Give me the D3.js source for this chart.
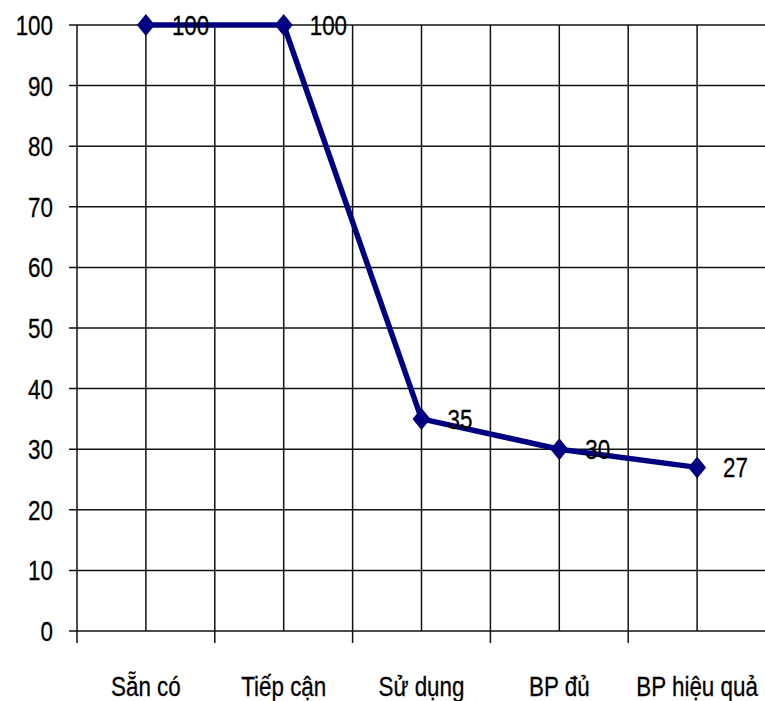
<!DOCTYPE html>
<html>
<head>
<meta charset="utf-8">
<script src="https://cdn.jsdelivr.net/npm/d3@7"></script>
<style>
  body { margin: 0; background: #fff; }
  text { font-family: "Liberation Sans", Arial, sans-serif; fill: #000; font-size: 28px; stroke: #000; stroke-width: 0.3px; }
</style>
</head>
<body>
<div id="chart-area"></div>
<script>
const categories = ["Sẵn có", "Tiếp cận", "Sử dụng", "BP đủ", "BP hiệu quả"];
const values = [100, 100, 35, 30, 27];
const yTicks = [0, 10, 20, 30, 40, 50, 60, 70, 80, 90, 100];

const W = 765, H = 701;
const margin = {top: 25, right: 0, bottom: 70, left: 77};
const sx = 0.8; // text in the picture is narrow and tall

const svg = d3.select("#chart-area")
  .append("svg")
    .attr("width", W)
    .attr("height", H);

const x = d3.scaleBand().domain(categories).range([margin.left, W + 1]).padding(0);
const y = d3.scaleLinear().domain([0, 100]).range([H - margin.bottom, margin.top]);

// horizontal grid lines (with the small tick to the left of the axis)
svg.append("g")
  .selectAll("line")
  .data(yTicks)
  .join("line")
    .attr("x1", margin.left - 8)
    .attr("x2", W)
    .attr("y1", d => y(d))
    .attr("y2", d => y(d))
    .attr("stroke", "#111")
    .attr("stroke-width", 1.5);

// vertical grid lines at band edges and centres
const vx = [];
categories.forEach(c => {
  vx.push(x(c) + x.bandwidth() / 2);
  vx.push(x(c) + x.bandwidth());
});
svg.append("g")
  .selectAll("line")
  .data(vx)
  .join("line")
    .attr("x1", d => d)
    .attr("x2", d => d)
    .attr("y1", y(100))
    .attr("y2", y(0))
    .attr("stroke", "#111")
    .attr("stroke-width", 1.5);

// y axis line
svg.append("line")
  .attr("x1", margin.left).attr("x2", margin.left)
  .attr("y1", y(100)).attr("y2", y(0))
  .attr("stroke", "#111")
  .attr("stroke-width", 1.5);

// y tick labels
svg.append("g")
  .selectAll("text")
  .data(yTicks)
  .join("text")
    .attr("transform", d => `translate(53,${y(d)}) scale(${sx},1)`)
    .attr("text-anchor", "end")
    .attr("dy", "0.36em")
    .text(d => d);

// x ticks only at the band edges
svg.append("g")
  .selectAll("line")
  .data(categories)
  .join("line")
    .attr("x1", d => x(d))
    .attr("x2", d => x(d))
    .attr("y1", y(0))
    .attr("y2", y(0) + 12)
    .attr("stroke", "#111")
    .attr("stroke-width", 1.5);

// category labels
svg.append("g")
  .selectAll("text")
  .data(categories)
  .join("text")
    .attr("transform", d => `translate(${x(d) + x.bandwidth() / 2},696) scale(${sx},1)`)
    .attr("text-anchor", "middle")
    .text(d => d);

// the line
const line = d3.line()
  .x((d, i) => x(categories[i]) + x.bandwidth() / 2)
  .y(d => y(d));

svg.append("path")
  .datum(values)
  .attr("fill", "none")
  .attr("stroke", "#000080")
  .attr("stroke-width", 5.5)
  .attr("stroke-linejoin", "round")
  .attr("d", line);

// diamond markers
svg.append("g")
  .selectAll("path")
  .data(values)
  .join("path")
    .attr("transform", (d, i) => `translate(${x(categories[i]) + x.bandwidth() / 2},${y(d)})`)
    .attr("d", "M0,-11L9,0L0,11L-9,0Z")
    .attr("fill", "#000080");

// value labels
svg.append("g")
  .selectAll("text")
  .data(values)
  .join("text")
    .attr("transform", (d, i) => `translate(${x(categories[i]) + x.bandwidth() / 2 + 26},${y(d)}) scale(${sx},1)`)
    .attr("dy", "0.36em")
    .text(d => d);
</script>
</body>
</html>
